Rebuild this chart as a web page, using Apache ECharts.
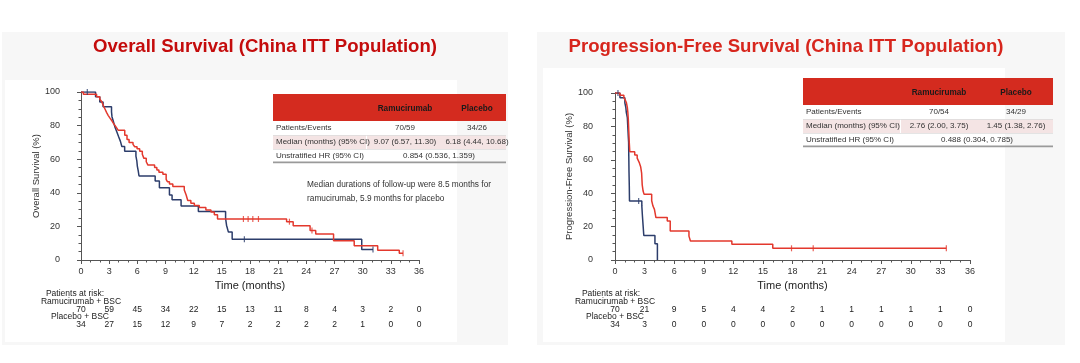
<!DOCTYPE html>
<html>
<head>
<meta charset="utf-8">
<script src="https://cdn.jsdelivr.net/npm/echarts@6/dist/echarts.min.js"></script>
<style>
html,body{margin:0;padding:0;background:#ffffff;}
#chart{width:1080px;height:363px;}
</style>
</head>
<body>
<div id="chart"></div>
<script>
// ---------- DATA ----------
const timeTicks = [0,3,6,9,12,15,18,21,24,27,30,33,36];

// Overall survival - Ramucirumab + BSC
const osRamTime = [0,0.25,1.66,2.0,2.2,2.36,2.54,2.72,2.89,3.07,3.25,3.42,3.6,3.78,3.95,4.66,4.9,5.12,5.54,5.72,5.97,6.25,6.53,6.7,6.95,7.13,7.84,8.08,8.3,8.72,9.07,9.2,9.42,9.78,11.0,11.2,11.37,11.7,12.07,12.6,13.3,13.84,14.2,14.54,21.9,22.6,24.4,25.0,26.9,29.1,31.6,33.9,34.3];
const osRamSurv = [100,98.6,97.1,95.7,94.3,92.1,90.0,87.9,86.1,84.6,83.2,81.6,80.2,78.8,77.3,74.3,71.7,70.0,68.8,67.4,66.2,64.8,63.0,60.5,58.5,56.5,55.1,53.5,52.2,51.0,48.0,46.6,45.3,43.7,41.7,38.7,35.4,33.8,32.4,31.2,29.8,28.5,26.9,24.4,22.8,20.4,17.5,15.5,11.5,8.5,5.8,4.0,4.0];
const osRamCensTime = [17.3,17.8,18.3,18.9,22.2,24.6,34.3];
const osRamCensSurv = [24.4,24.4,24.4,24.4,22.8,17.5,4.0];

// Overall survival - Placebo + BSC
const osPboTime = [0,1.55,2.0,2.35,3.25,3.3,3.45,3.6,3.8,4.0,4.2,4.35,4.65,5.85,5.95,6.0,6.1,6.18,7.9,8.35,9.42,9.7,10.66,12.5,15.4,15.5,15.7,16.1,29.9,31.1];
const osPboSurv = [100,97.1,94.1,91.2,88.2,85.3,82.4,79.4,76.5,73.5,70.6,67.6,64.7,61.8,58.8,55.9,52.9,50.0,47.0,43.0,38.7,35.8,32.2,28.8,24.8,20.7,16.6,12.4,6.2,6.2];
const osPboCensTime = [0.67,17.4,31.1];
const osPboCensSurv = [100,12.4,6.2];

// Progression-free survival - Ramucirumab + BSC
const pfsRamTime = [0,0.5,0.9,1.05,1.15,1.25,1.3,1.35,1.4,1.45,1.5,2.0,2.25,2.45,2.6,2.7,2.76,2.85,2.95,3.72,3.85,4.0,4.15,5.3,5.6,7.5,7.65,11.85,16.0,33.6];
const pfsRamSurv = [100,98.6,97.1,95.7,94.3,91.4,88.6,84.3,77.1,70.0,64.8,62.9,61.0,58.5,55.9,52.0,45.0,41.3,39.3,35.5,32.3,30.3,25.4,23.3,17.4,14.3,11.4,9.4,7.0,7.0];
const pfsRamCensTime = [17.9,20.1,33.6];
const pfsRamCensSurv = [7.0,7.0,7.0];

// Progression-free survival - Placebo + BSC
const pfsPboTime = [0,0.5,1.0,1.1,1.15,1.25,1.35,1.38,1.4,1.42,1.45,1.47,2.72,2.78,2.85,2.92,4.05,4.3];
const pfsPboSurv = [100,97.1,94.1,91.2,88.2,85.3,73.5,70.6,61.8,52.9,44.1,35.3,32.4,26.5,20.6,14.7,9.8,0];
const pfsPboCensTime = [0.3,2.4];
const pfsPboCensSurv = [100,35.3];

// Patients at risk
const osRiskRam = [70,59,45,34,22,15,13,11,8,4,3,2,0];
const osRiskPbo = [34,27,15,12,9,7,2,2,2,2,1,0,0];
const pfsRiskRam = [70,21,9,5,4,4,2,1,1,1,1,1,0];
const pfsRiskPbo = [34,3,0,0,0,0,0,0,0,0,0,0,0];

// Tables
const tableHeader = ['Ramucirumab','Placebo'];
const osTableRows = [
  ['Patients/Events','70/59','34/26'],
  ['Median (months) (95% CI)','9.07 (6.57, 11.30)','6.18 (4.44, 10.68)'],
  ['Unstratified HR (95% CI)','0.854 (0.536, 1.359)']
];
const pfsTableRows = [
  ['Patients/Events','70/54','34/29'],
  ['Median (months) (95% CI)','2.76 (2.00, 3.75)','1.45 (1.38, 2.76)'],
  ['Unstratified HR (95% CI)','0.488 (0.304, 0.785)']
];
const osNote = ['Median durations of follow-up were 8.5 months for','ramucirumab, 5.9 months for placebo'];
const titles = ['Overall Survival (China ITT Population)','Progression-Free Survival (China ITT Population)'];
const yNames = ['Overall Survival (%)','Progression-Free Survival (%)'];
const riskLabels = ['Patients at risk:','Ramucirumab + BSC','Placebo + BSC'];

// ---------- CHART ----------
const FONT = '"Liberation Sans", Arial, sans-serif';
const RED = '#e3382d';
const BLUE = '#2c3d6b';
const AX = '#555555';

function pairs(t, s){ return t.map((x,i)=>[x, s[i]]); }

function mainX(grid){
  return {
    type:'value', gridIndex:grid, min:0, max:36, interval:3, offset:3,
    axisLine:{show:true, lineStyle:{color:AX, width:1}},
    axisTick:{show:true, length:4, lineStyle:{color:AX}},
    minorTick:{show:true, splitNumber:3, length:2.5, lineStyle:{color:AX}},
    splitLine:{show:false},
    axisLabel:{fontSize:9, color:'#333', margin:4.5, lineHeight:9, fontFamily:FONT,
      formatter:(v)=>String(timeTicks[Math.round(v/3)])},
    name:'Time (months)', nameLocation:'middle', nameGap:17,
    nameTextStyle:{fontSize:11, color:'#222', fontFamily:FONT}
  };
}
function riskX(grid, arr, margin){
  return {
    type:'value', gridIndex:grid, min:0, max:36, interval:3, position:'bottom', offset:0,
    axisLine:{show:false}, axisTick:{show:false}, splitLine:{show:false},
    axisLabel:{fontSize:8.5, color:'#222', margin:margin, lineHeight:10, fontFamily:FONT,
      showMinLabel:true, showMaxLabel:true,
      formatter:(v)=>String(arr[Math.round(v/3)])}
  };
}
function mainY(grid, name, off, gap){
  return {
    type:'value', gridIndex:grid, min:0, max:100, interval:20, offset:off,
    axisLine:{show:true, lineStyle:{color:AX, width:1}},
    axisTick:{show:true, length:4, lineStyle:{color:AX}},
    minorTick:{show:true, splitNumber:4, length:2.5, lineStyle:{color:AX}},
    splitLine:{show:false},
    axisLabel:{fontSize:9, color:'#333', margin:8, fontFamily:FONT},
    name:name, nameLocation:'middle', nameGap:gap, nameRotate:90,
    nameTextStyle:{fontSize:9.5, color:'#333', fontFamily:FONT}
  };
}
function kmLine(xi, yi, t, s, color){
  return {type:'line', xAxisIndex:xi, yAxisIndex:yi, data:pairs(t,s), step:'end',
    symbol:'none', lineStyle:{color:color, width:1.5}, itemStyle:{color:color}, z:3, silent:true};
}
function cens(xi, yi, t, s, color){
  return {type:'scatter', xAxisIndex:xi, yAxisIndex:yi, data:pairs(t,s),
    symbol:'rect', symbolSize:[1.2,6], itemStyle:{color:color}, z:4, silent:true};
}

function txt(x, y, text, opt){
  opt = opt || {};
  return {type:'text', x:x, y:y, z:opt.z||10, silent:true,
    style:{text:text, fill:opt.fill||'#222',
      font:(opt.weight||'normal')+' '+(opt.size||8)+'px '+FONT,
      textAlign:opt.align||'left', align:opt.align||'left',
      textVerticalAlign:'middle', verticalAlign:'middle'}};
}
function rect(x, y, w, h, fill, z){
  return {type:'rect', z:(z===undefined?-10:z), silent:true, shape:{x:x,y:y,width:w,height:h}, style:{fill:fill}};
}

function tableEls(x0, x1, yTop, sepX, cRam, cPbo, cHR, rows){
  const els = [];
  const hH = 27, rH = 14;
  els.push(rect(x0, yTop, x1-x0, hH, '#d42b1f', 1));
  els.push(txt(cRam, yTop+hH/2+1, tableHeader[0], {align:'center', weight:'bold', size:8.2, fill:'#1a1a1a'}));
  els.push(txt(cPbo, yTop+hH/2+1, tableHeader[1], {align:'center', weight:'bold', size:8.2, fill:'#1a1a1a'}));
  const y1 = yTop+hH;
  els.push(rect(x0, y1+rH, x1-x0, rH, '#f4e4e4', 1));
  els.push(rect(sepX, y1+rH, 1, rH, '#ffffff', 2));
  els.push(rect(x0, y1+rH, x1-x0, 0.8, '#dddddd', 2));
  els.push(rect(x0, y1+2*rH, x1-x0, 0.8, '#dddddd', 2));
  els.push(rect(x0, y1+3*rH-1.5, x1-x0, 1.8, '#9a9a9a', 2));
  rows.forEach((r,i)=>{
    const cy = y1 + rH*i + rH/2;
    els.push(txt(x0+3, cy, r[0], {size:8, fill:'#333'}));
    if (r.length === 3){
      els.push(txt(cRam, cy, r[1], {align:'center', size:8, fill:'#333'}));
      els.push(txt(cPbo, cy, r[2], {align:'center', size:8, fill:'#333'}));
    } else {
      els.push(txt(cHR, cy, r[1], {align:'center', size:8, fill:'#333'}));
    }
  });
  return els;
}

let graphics = [];
// panel backgrounds
graphics.push(rect(2, 32, 506, 313, '#f7f7f7', -20));
graphics.push(rect(5, 80, 452, 262, '#ffffff', -19));
graphics.push(rect(537, 32, 528, 313, '#f7f7f7', -20));
graphics.push(rect(543, 68, 462, 274, '#ffffff', -19));
// titles
graphics.push(txt(265, 47, titles[0], {align:'center', weight:'bold', size:18.6, fill:'#c40c0c'}));
graphics.push(txt(786, 47, titles[1], {align:'center', weight:'bold', size:18.6, fill:'#d7261d'}));
// tables
graphics = graphics.concat(tableEls(273, 506, 94, 366, 405, 477, 439, osTableRows));
graphics = graphics.concat(tableEls(803, 1053, 78, 900, 939, 1016, 977, pfsTableRows));
// note
graphics.push(txt(307, 185, osNote[0], {size:8.3, fill:'#333'}));
graphics.push(txt(307, 199, osNote[1], {size:8.3, fill:'#333'}));
// at-risk labels
graphics.push(txt(75, 294, riskLabels[0], {align:'center', size:8.5}));
graphics.push(txt(81, 302, riskLabels[1], {align:'center', size:8.5}));
graphics.push(txt(80, 317, riskLabels[2], {align:'center', size:8.5}));
graphics.push(txt(611, 294, riskLabels[0], {align:'center', size:8.5}));
graphics.push(txt(615, 302, riskLabels[1], {align:'center', size:8.5}));
graphics.push(txt(615, 317, riskLabels[2], {align:'center', size:8.5}));

const option = {
  animation:false,
  backgroundColor:'#ffffff',
  textStyle:{fontFamily:FONT},
  grid:[
    {left:81, top:92, width:338, height:168},
    {left:615, top:93, width:355, height:167}
  ],
  xAxis:[
    mainX(0), riskX(0, osRiskRam, 45), riskX(0, osRiskPbo, 60),
    mainX(1), riskX(1, pfsRiskRam, 45), riskX(1, pfsRiskPbo, 60)
  ],
  yAxis:[
    mainY(0, yNames[0], 13, 27),
    mainY(1, yNames[1], 14, 26)
  ],
  graphic:{elements:graphics},
  series:[
    kmLine(0,0, osPboTime, osPboSurv, BLUE),
    kmLine(0,0, osRamTime, osRamSurv, RED),
    cens(0,0, osPboCensTime, osPboCensSurv, BLUE),
    cens(0,0, osRamCensTime, osRamCensSurv, RED),
    kmLine(3,1, pfsPboTime, pfsPboSurv, BLUE),
    kmLine(3,1, pfsRamTime, pfsRamSurv, RED),
    cens(3,1, pfsPboCensTime, pfsPboCensSurv, BLUE),
    cens(3,1, pfsRamCensTime, pfsRamCensSurv, RED)
  ]
};
const chart = echarts.init(document.getElementById('chart'), null, {renderer:'canvas'});
chart.setOption(option);
</script>
</body>
</html>
